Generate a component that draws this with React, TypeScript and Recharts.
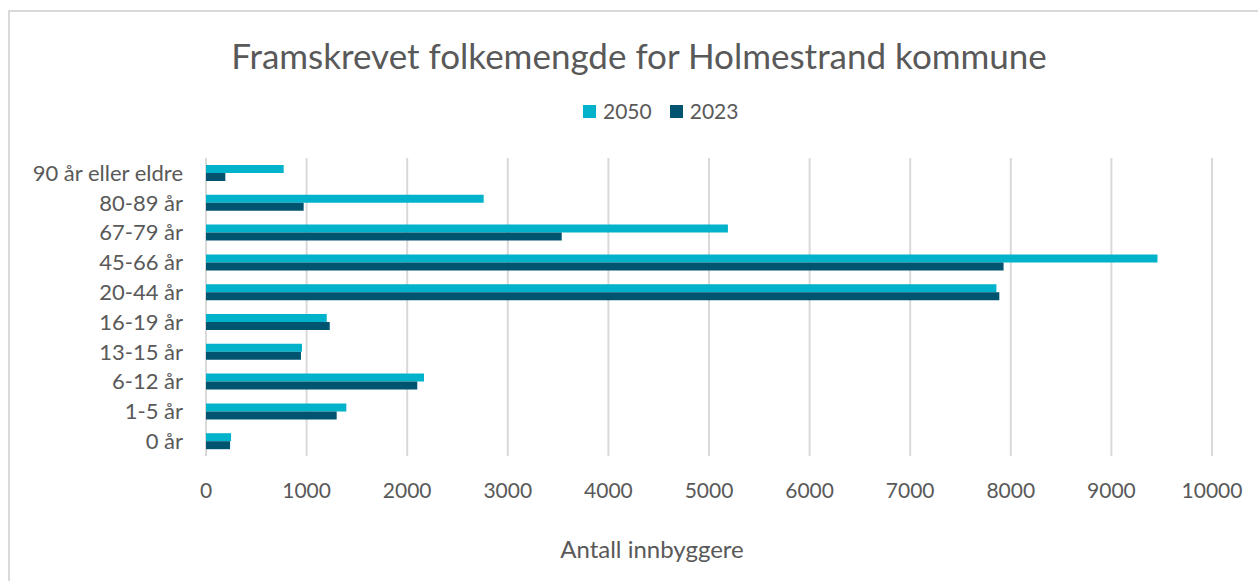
import React from "react"
import { BarChart, Bar, XAxis, YAxis, CartesianGrid } from "recharts"

const categories = [
  "90 år eller eldre",
  "80-89 år",
  "67-79 år",
  "45-66 år",
  "20-44 år",
  "16-19 år",
  "13-15 år",
  "6-12 år",
  "1-5 år",
  "0 år",
]
const values2050 = [772, 2760, 5188, 9458, 7857, 1200, 954, 2167, 1395, 249]
const values2023 = [192, 971, 3536, 7928, 7886, 1230, 944, 2100, 1299, 239]
const xTicks = [0, 1000, 2000, 3000, 4000, 5000, 6000, 7000, 8000, 9000, 10000]

const COLOR_2050 = "#00B2CA"
const COLOR_2023 = "#00546F"
const TEXT = "#595959"
const FONT = "Lato, 'Open Sans', sans-serif"

const data = categories.map((name, i) => ({
  name,
  y2050: values2050[i],
  y2023: values2023[i],
}))

const LegendItem = ({ color, label }: { color: string; label: string }) => (
  <div style={{ display: "flex", alignItems: "center", marginRight: 18 }}>
    <div style={{ width: 13, height: 13, background: color, marginRight: 7 }} />
    <span>{label}</span>
  </div>
)

export default function App() {
  return (
    <div
      style={{
        position: "absolute",
        left: 8,
        top: 10,
        width: 1260,
        height: 580,
        borderTop: "2px solid #d9d9d9",
        borderLeft: "2px solid #d9d9d9",
        background: "#fff",
        fontFamily: FONT,
        color: TEXT,
        overflow: "hidden",
      }}
    >
      {/* Title */}
      <div
        style={{
          position: "absolute",
          top: 22,
          left: 0,
          width: 1258,
          textAlign: "center",
          fontSize: 35,
          lineHeight: "42px",
        }}
      >
        Framskrevet folkemengde for Holmestrand kommune
      </div>

      {/* Legend */}
      <div
        style={{
          position: "absolute",
          top: 86,
          left: 573,
          display: "flex",
          fontSize: 21,
          lineHeight: "26px",
        }}
      >
        <LegendItem color={COLOR_2050} label="2050" />
        <LegendItem color={COLOR_2023} label="2023" />
      </div>

      <BarChart
        width={1258}
        height={570}
        data={data}
        layout="vertical"
        margin={{ top: 146, right: 56, left: 16, bottom: 96 }}
        barGap={0}
        barSize={8}
      >
        <CartesianGrid horizontal={false} stroke="#d9d9d9" strokeWidth={2} />
        <XAxis
          type="number"
          domain={[0, 10000]}
          ticks={xTicks}
          height={30}
          axisLine={false}
          tickLine={false}
          tickMargin={21}
          tick={{ fill: TEXT, fontSize: 21, fontFamily: FONT }}
        />
        <YAxis
          type="category"
          dataKey="name"
          width={180}
          axisLine={false}
          tickLine={false}
          tickSize={0}
          tickMargin={23}
          interval={0}
          tick={{ fill: TEXT, fontSize: 22, fontFamily: FONT }}
        />
        <Bar dataKey="y2050" fill={COLOR_2050} isAnimationActive={false} />
        <Bar dataKey="y2023" fill={COLOR_2023} isAnimationActive={false} />
      </BarChart>

      {/* Axis title */}
      <div
        style={{
          position: "absolute",
          top: 522,
          left: 652 - 10 - 150,
          width: 300,
          textAlign: "center",
          fontSize: 24,
          lineHeight: "29px",
        }}
      >
        Antall innbyggere
      </div>
    </div>
  )
}
